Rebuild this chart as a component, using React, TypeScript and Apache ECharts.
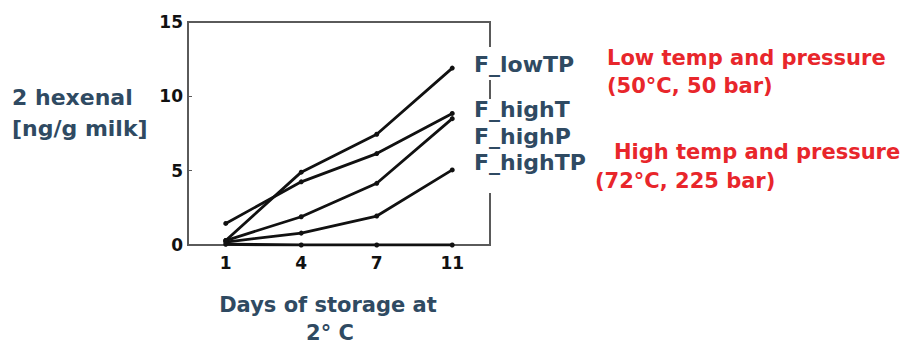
import React, { useEffect, useRef } from "react";
import * as echarts from "echarts";

const days = ["1", "4", "7", "11"];
const fLowTP = [0.3, 4.9, 7.45, 11.9];
const fHighT = [1.45, 4.25, 6.15, 8.85];
const fHighP = [0.3, 1.9, 4.15, 8.5];
const fHighTP = [0.2, 0.8, 1.95, 5.05];
const baseline = [0.05, 0, 0, 0];

const seriesNames = ["F_lowTP", "F_highT", "F_highP", "F_highTP", "baseline"];
const seriesData = [fLowTP, fHighT, fHighP, fHighTP, baseline];

const yTitle = ["2 hexenal", "[ng/g milk]"];
const xTitle = ["Days of storage at", "2° C"];
const seriesLabels = ["F_lowTP", "F_highT", "F_highP", "F_highTP"];
const noteLow = ["Low temp and pressure", "(50°C, 50 bar)"];
const noteHigh = ["High temp and pressure", "(72°C, 225 bar)"];

const FONT = '"DejaVu Sans", sans-serif';
const SLATE = "#2f4a62";
const RED = "#e8262b";

function txt(text: string, x: number, y: number, size: number, color: string, align = "left") {
  return {
    type: "text",
    x,
    y,
    z: 20,
    style: {
      text,
      fill: color,
      fontFamily: FONT,
      fontWeight: "bold",
      fontSize: size,
      textAlign: align,
      align,
      textVerticalAlign: "middle",
      verticalAlign: "middle",
    },
  };
}

export default function App() {
  const ref = useRef<HTMLDivElement>(null);
  useEffect(() => {
    if (!ref.current) return;
    const chart = echarts.init(ref.current, undefined, { renderer: "svg" });
    const labelYs = [64, 109, 136, 162];
    chart.setOption({
      animation: false,
      backgroundColor: "#ffffff",
      grid: {
        left: 188,
        right: 418,
        top: 22,
        bottom: 99,
        show: true,
        borderColor: "#5a5a5a",
        borderWidth: 2,
      },
      xAxis: {
        type: "category",
        data: days,
        boundaryGap: true,
        axisLine: { show: true, lineStyle: { color: "#5a5a5a", width: 2 } },
        axisTick: { show: false },
        axisLabel: {
          color: "#111",
          fontFamily: FONT,
          fontWeight: "bold",
          fontSize: 17,
          margin: 9,
        },
        splitLine: { show: false },
      },
      yAxis: {
        type: "value",
        min: 0,
        max: 15,
        interval: 5,
        axisLine: { show: true, lineStyle: { color: "#5a5a5a", width: 2 } },
        axisTick: { show: true, inside: true, length: 4, lineStyle: { color: "#5a5a5a" } },
        axisLabel: {
          color: "#111",
          fontFamily: FONT,
          fontWeight: "bold",
          fontSize: 17,
          margin: 5,
        },
        splitLine: { show: false },
      },
      series: seriesNames.map((name, i) => ({
        name,
        type: "line",
        data: seriesData[i],
        symbol: "circle",
        symbolSize: 5,
        itemStyle: { color: "#111" },
        lineStyle: { color: "#111", width: i === 4 ? 3.2 : 2.8 },
      })),
      graphic: [
        { type: "rect", z: 10, shape: { x: 468, y: 47, width: 124, height: 33 }, style: { fill: "#fff" } },
        { type: "rect", z: 10, shape: { x: 468, y: 99, width: 124, height: 94 }, style: { fill: "#fff" } },
        ...seriesLabels.map((t, i) => txt(t, 474, labelYs[i], 22, SLATE)),
        txt(yTitle[0], 12, 97, 22, SLATE),
        txt(yTitle[1], 12, 128, 22, SLATE),
        txt(xTitle[0], 328, 305, 21, SLATE, "center"),
        txt(xTitle[1], 330, 333, 21, SLATE, "center"),
        txt(noteLow[0], 607, 58, 21, RED),
        txt(noteLow[1], 607, 86, 21, RED),
        txt(noteHigh[0], 614, 152, 21, RED),
        txt(noteHigh[1], 595, 181, 21, RED),
      ],
    });
    return () => chart.dispose();
  }, []);
  return <div ref={ref} style={{ width: 908, height: 344, position: "absolute", left: 0, top: 0 }} />;
}
